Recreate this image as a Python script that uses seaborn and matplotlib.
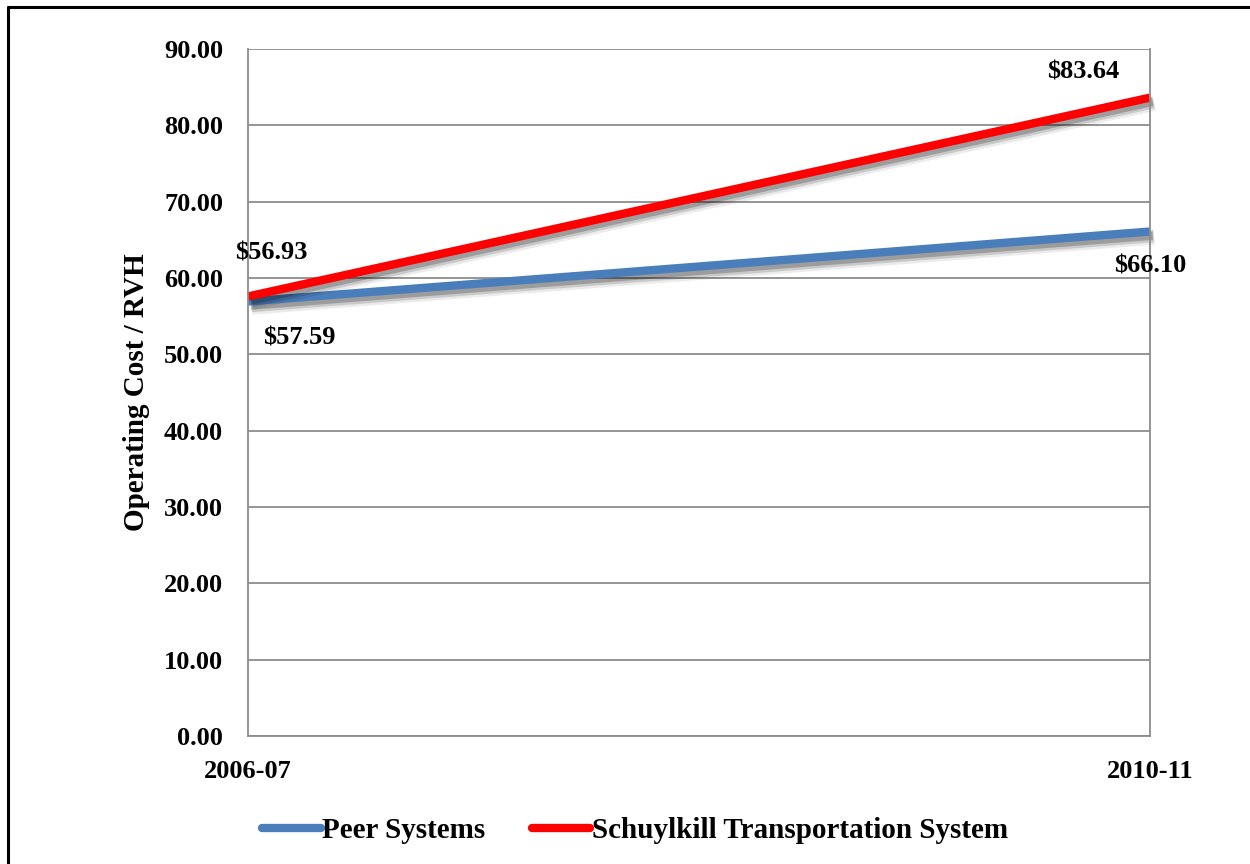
import matplotlib
matplotlib.use("Agg")
import matplotlib.pyplot as plt
import matplotlib.patheffects as pe
from matplotlib.lines import Line2D
import seaborn as sns
import pandas as pd

# Operating cost per revenue vehicle hour
years = ["2006-07", "2010-11"]
peer_systems = [56.93, 66.10]
schuylkill = [57.59, 83.64]
series_names = ["Peer Systems", "Schuylkill Transportation System"]
series_colors = ["#4A7EBB", "#FF0000"]
y_ticks = [0, 10, 20, 30, 40, 50, 60, 70, 80, 90]

df = pd.DataFrame({
    "year": years * 2,
    "xpos": [0, 1] * 2,
    "cost": peer_systems + schuylkill,
    "series": [series_names[0]] * 2 + [series_names[1]] * 2,
})

sns.set_theme(style="white")
plt.rcParams["font.family"] = ["Liberation Serif", "DejaVu Serif"]
plt.rcParams["font.weight"] = "bold"
plt.rcParams["text.color"] = "black"
plt.rcParams["axes.labelcolor"] = "black"
plt.rcParams["xtick.color"] = "black"
plt.rcParams["ytick.color"] = "black"

fig = plt.figure(figsize=(12.5, 8.64), dpi=100)
ax = fig.add_axes([0.1984, 0.1481, 0.7216, 0.7951])

shadow = [
    pe.SimpleLineShadow(offset=(3.0, -4.0), shadow_color="black", alpha=0.08, linewidth=11),
    pe.SimpleLineShadow(offset=(2.5, -3.5), shadow_color="black", alpha=0.14, linewidth=8.5),
    pe.SimpleLineShadow(offset=(2.0, -3.0), shadow_color="black", alpha=0.22, linewidth=6),
    pe.Normal(),
]

sns.lineplot(data=df, x="xpos", y="cost", hue="series", hue_order=series_names,
             palette=series_colors, linewidth=6, ax=ax, legend=False,
             solid_capstyle="butt")
for line in ax.get_lines():
    line.set_path_effects(shadow)
    line.set_clip_on(False)

ax.set_xlim(0, 1)
ax.set_ylim(0, 90)
ax.set_yticks(y_ticks)
ax.set_yticklabels([f"{v:.2f}" for v in y_ticks])
ax.set_xticks([0, 1])
ax.set_xticklabels(years)
ax.tick_params(axis="y", length=0, pad=18, labelsize=19, labelcolor="black")
ax.tick_params(axis="x", length=0, pad=17, labelsize=19, labelcolor="black")
for lbl in ax.get_xticklabels() + ax.get_yticklabels():
    lbl.set_fontweight("bold")

ax.grid(axis="y", color="#8C8C8C", linewidth=1.3)
ax.set_axisbelow(True)
for side in ["left", "bottom", "right"]:
    ax.spines[side].set_visible(True)
    ax.spines[side].set_color("#8C8C8C")
    ax.spines[side].set_linewidth(1.3)
ax.spines["top"].set_visible(False)

ax.set_xlabel("")
ax.set_ylabel("Operating Cost / RVH", fontsize=21, fontweight="bold", labelpad=10,
              color="black")

# Value labels
label_style = dict(textcoords="offset points", ha="center", va="center",
                   fontsize=19, fontweight="bold", color="black")
ax.annotate(f"${peer_systems[0]:.2f}", (0, peer_systems[0]), xytext=(17, 35), **label_style)
ax.annotate(f"${schuylkill[0]:.2f}", (0, schuylkill[0]), xytext=(37, -30), **label_style)
ax.annotate(f"${schuylkill[1]:.2f}", (1, schuylkill[1]), xytext=(-48, 18.5), **label_style)
ax.annotate(f"${peer_systems[1]:.2f}", (1, peer_systems[1]), xytext=(0, -25), **label_style)

handles = [Line2D([0], [0], color=c, linewidth=6, solid_capstyle="round") for c in series_colors]
fig.legend(handles, series_names, loc="center", bbox_to_anchor=(0.508, 0.039), ncol=2,
           frameon=False, prop={"size": 21, "weight": "bold"},
           handlelength=2.0, handletextpad=0.05, columnspacing=1.6)

# Outer frame
fig.add_artist(Line2D([8 / 1250, 8 / 1250], [0, 1 - 7 / 864], color="black", linewidth=2.2,
                      transform=fig.transFigure))
fig.add_artist(Line2D([8 / 1250, 1], [1 - 7 / 864, 1 - 7 / 864], color="black", linewidth=2.2,
                      transform=fig.transFigure))

fig.savefig("out.png", dpi=100, facecolor="white")
